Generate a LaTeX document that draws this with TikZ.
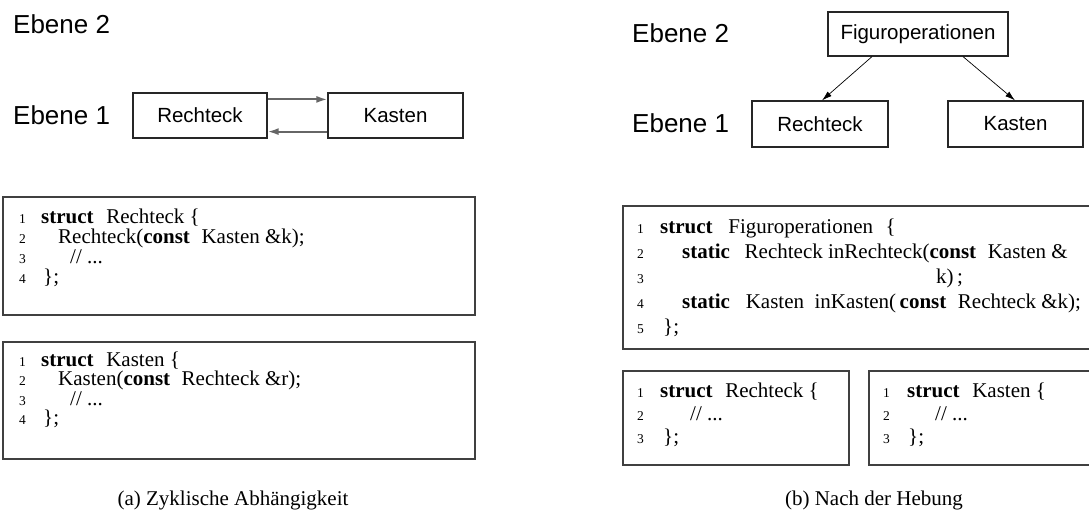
\documentclass[tikz,border=0pt]{standalone}
\usepackage{fontspec}
\setmainfont{Liberation Serif}
\newfontfamily\lsans{Liberation Sans}
\newfontfamily\codefont{Liberation Serif}
\usetikzlibrary{arrows.meta}
\tikzset{
  x=1pt, y=-1pt,
  lbl/.style={font=\lsans\fontsize{20.5}{24}\selectfont, draw=black!85, line width=1.2pt, inner sep=0pt},
  ebene/.style={font=\lsans\fontsize{26}{30}\selectfont, anchor=base west, inner sep=0pt},
  codebox/.style={draw=black!75, line width=1.3pt},
  cl/.style={font=\codefont\fontsize{21}{24}\selectfont, anchor=base west, inner sep=0pt},
  num/.style={font=\codefont\fontsize{13.5}{15}\selectfont, anchor=base west, inner sep=0pt},
  captxt/.style={font=\fontsize{21}{24}\selectfont, anchor=base, inner sep=0pt},
  garr/.style={draw=black!60, line width=2pt, -{Latex[length=11pt,width=7pt]}},
  tarr/.style={draw=black, line width=0.7pt, -{Latex[length=10pt,width=6pt]}}
}
\begin{document}
\begin{tikzpicture}
\useasboundingbox (0,0) rectangle (1089,531);
\clip (0,0) rectangle (1089,531);
% ---------- left panel
\node[ebene] (le2) at (13,33) {Ebene 2};
\node[ebene] (le1) at (13,124) {Ebene 1};
\node[lbl, minimum width=134pt, minimum height=45pt] (lr) at (200,115.5) {Rechteck};
\node[lbl, minimum width=135pt, minimum height=45pt] (lk) at (395.5,115.5) {Kasten};
\draw[garr] ([yshift=-7pt]lr.north east) -- ([yshift=-7pt]lk.north west);
\draw[garr] ([yshift=7pt]lk.south west) -- ([yshift=7pt]lr.south east);

\draw[codebox] (3,197) rectangle (475,315);
\node[num] (a1n) at (19,223) {1};
\node[cl] (a1) at (41,223) {\textbf{struct}\hspace{.6em}Rechteck \{};
\node[num] (a2n) at (19,243) {2};
\node[cl] (a2) at (58,243) {Rechteck(\textbf{const}\hspace{.55em}Kasten \&k);};
\node[num] (a3n) at (19,263) {3};
\node[cl] (a3) at (70,263) {// ...};
\node[num] (a4n) at (19,283) {4};
\node[cl] (a4) at (43,283) {\};};

\draw[codebox] (3,342) rectangle (475,459);
\node[num] (b1n) at (19,366) {1};
\node[cl] (b1) at (41,366) {\textbf{struct}\hspace{.6em}Kasten \{};
\node[num] (b2n) at (19,385.5) {2};
\node[cl] (b2) at (58,385.5) {Kasten(\textbf{const}\hspace{.55em}Rechteck \&r);};
\node[num] (b3n) at (19,405) {3};
\node[cl] (b3) at (70,405) {// ...};
\node[num] (b4n) at (19,424) {4};
\node[cl] (b4) at (43,424) {\};};

\node[captxt] (capa) at (233,505) {(a) Zyklische Abhängigkeit};

% ---------- right panel
\node[ebene] (re2) at (632,42) {Ebene 2};
\node[ebene] (re1) at (632,132) {Ebene 1};
\node[lbl, minimum width=180pt, minimum height=44pt] (rf) at (918,34) {Figuroperationen};
\node[lbl, minimum width=136pt, minimum height=46pt] (rr) at (820,124) {Rechteck};
\node[lbl, minimum width=135pt, minimum height=46pt] (rk) at (1015.5,124) {Kasten};
\draw[tarr] ([xshift=-46pt]rf.south) -- ([xshift=2pt]rr.north);
\draw[tarr] ([xshift=45pt]rf.south) -- ([xshift=-0.5pt]rk.north);

\draw[codebox] (623,206) rectangle (1100,349);
\node[num] (c1n) at (637,233) {1};
\node[cl] (c1) at (660,233) {\textbf{struct}\hspace{.75em}Figuroperationen\hspace{.6em}\{};
\node[num] (c2n) at (637,258) {2};
\node[cl] (c2) at (682,258) {\textbf{static}\hspace{.7em}Rechteck inRechteck(\textbf{const}\hspace{.55em}Kasten \&};
\node[num] (c3n) at (637,283) {3};
\node[cl] (c3) at (936,283) {k)\,;};
\node[num] (c4n) at (637,308) {4};
\node[cl] (c4) at (682,308) {\textbf{static}\hspace{.75em}Kasten\hspace{.5em}inKasten(\,\textbf{const}\hspace{.55em}Rechteck \&k);};
\node[num] (c5n) at (637,333) {5};
\node[cl] (c5) at (663,333) {\};};

\draw[codebox] (623,371) rectangle (849,465);
\node[num] (d1n) at (637,397) {1};
\node[cl] (d1) at (660,397) {\textbf{struct}\hspace{.6em}Rechteck \{};
\node[num] (d2n) at (637,420) {2};
\node[cl] (d2) at (690,420) {// ...};
\node[num] (d3n) at (637,443) {3};
\node[cl] (d3) at (663,443) {\};};

\draw[codebox] (869,371) rectangle (1100,465);
\node[num] (e1n) at (883,397) {1};
\node[cl] (e1) at (907,397) {\textbf{struct}\hspace{.6em}Kasten \{};
\node[num] (e2n) at (883,420) {2};
\node[cl] (e2) at (935,420) {// ...};
\node[num] (e3n) at (883,443) {3};
\node[cl] (e3) at (908,443) {\};};

\node[captxt] (capb) at (874,505) {(b) Nach der Hebung};
\end{tikzpicture}
\end{document}
